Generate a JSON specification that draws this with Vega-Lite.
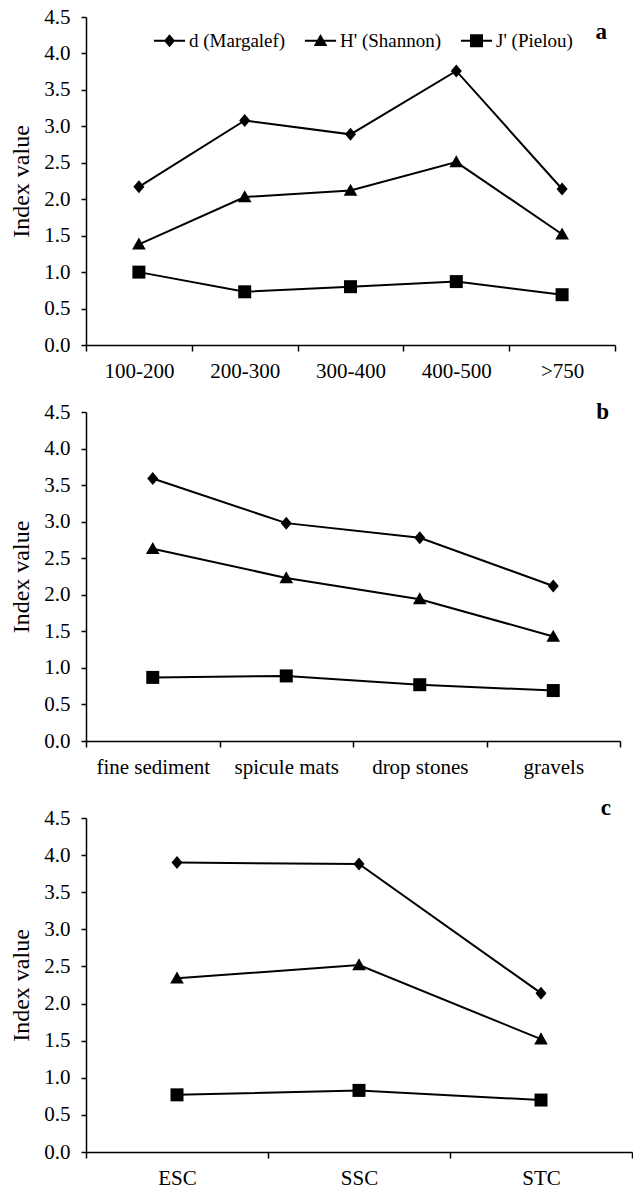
{
  "$schema": "https://vega.github.io/schema/vega-lite/v6.json",
  "background": "white",
  "padding": {"left": 9, "top": 6, "right": 0, "bottom": 0},
  "spacing": 20,
  "config": {
    "font": "Liberation Serif",
    "view": {"stroke": null},
    "title": {"font": "Liberation Serif", "fontSize": 23, "fontWeight": "bold", "color": "black", "anchor": "end", "frame": "group", "baseline": "middle", "offset": 0},
    "axis": {
      "grid": false,
      "domainColor": "black",
      "domainWidth": 1.5,
      "tickColor": "black",
      "tickWidth": 1.5,
      "tickSize": 6,
      "labelColor": "black",
      "labelFont": "Liberation Serif",
      "labelFontSize": 21,
      "labelOverlap": false,
      "titleFont": "Liberation Serif",
      "titleFontSize": 24,
      "titleFontWeight": "normal",
      "titleColor": "black"
    },
    "axisX": {"labelAngle": 0, "labelPadding": 9, "tickBand": "extent", "title": null},
    "axisY": {"labelPadding": 11, "tickSize": 5, "titlePadding": 10}
  },
  "datasets": {
    "depth": [
      {"cat": "100-200", "index": "d (Margalef)", "value": 2.17},
      {"cat": "200-300", "index": "d (Margalef)", "value": 3.08},
      {"cat": "300-400", "index": "d (Margalef)", "value": 2.89},
      {"cat": "400-500", "index": "d (Margalef)", "value": 3.76},
      {"cat": ">750", "index": "d (Margalef)", "value": 2.14},
      {"cat": "100-200", "index": "H' (Shannon)", "value": 1.38},
      {"cat": "200-300", "index": "H' (Shannon)", "value": 2.03},
      {"cat": "300-400", "index": "H' (Shannon)", "value": 2.12},
      {"cat": "400-500", "index": "H' (Shannon)", "value": 2.51},
      {"cat": ">750", "index": "H' (Shannon)", "value": 1.52},
      {"cat": "100-200", "index": "J' (Pielou)", "value": 1.0},
      {"cat": "200-300", "index": "J' (Pielou)", "value": 0.73},
      {"cat": "300-400", "index": "J' (Pielou)", "value": 0.8},
      {"cat": "400-500", "index": "J' (Pielou)", "value": 0.87},
      {"cat": ">750", "index": "J' (Pielou)", "value": 0.69}
    ],
    "substrate": [
      {"cat": "fine sediment", "index": "d (Margalef)", "value": 3.59},
      {"cat": "spicule mats", "index": "d (Margalef)", "value": 2.98},
      {"cat": "drop stones", "index": "d (Margalef)", "value": 2.78},
      {"cat": "gravels", "index": "d (Margalef)", "value": 2.12},
      {"cat": "fine sediment", "index": "H' (Shannon)", "value": 2.63},
      {"cat": "spicule mats", "index": "H' (Shannon)", "value": 2.23},
      {"cat": "drop stones", "index": "H' (Shannon)", "value": 1.94},
      {"cat": "gravels", "index": "H' (Shannon)", "value": 1.43},
      {"cat": "fine sediment", "index": "J' (Pielou)", "value": 0.87},
      {"cat": "spicule mats", "index": "J' (Pielou)", "value": 0.89},
      {"cat": "drop stones", "index": "J' (Pielou)", "value": 0.77},
      {"cat": "gravels", "index": "J' (Pielou)", "value": 0.69}
    ],
    "community": [
      {"cat": "ESC", "index": "d (Margalef)", "value": 3.9},
      {"cat": "SSC", "index": "d (Margalef)", "value": 3.88},
      {"cat": "STC", "index": "d (Margalef)", "value": 2.14},
      {"cat": "ESC", "index": "H' (Shannon)", "value": 2.34},
      {"cat": "SSC", "index": "H' (Shannon)", "value": 2.52},
      {"cat": "STC", "index": "H' (Shannon)", "value": 1.52},
      {"cat": "ESC", "index": "J' (Pielou)", "value": 0.77},
      {"cat": "SSC", "index": "J' (Pielou)", "value": 0.83},
      {"cat": "STC", "index": "J' (Pielou)", "value": 0.7}
    ]
  },
  "resolve": {"scale": {"x": "independent", "y": "independent", "shape": "independent"}, "legend": {"shape": "independent"}},
  "vconcat": [
    {
      "width": 529,
      "height": 328,
      "title": {"text": "a", "dx": -8, "dy": 42},
      "data": {"name": "depth"},
      "encoding": {
        "x": {"field": "cat", "type": "nominal", "sort": null, "bandPosition": 0.5, "scale": {"type": "band", "paddingInner": 0, "paddingOuter": 0}},
        "y": {"field": "value", "type": "quantitative", "scale": {"domain": [0, 4.5], "nice": false}, "axis": {"values": [0, 0.5, 1, 1.5, 2, 2.5, 3, 3.5, 4, 4.5], "format": ".1f", "title": "Index value"}}
      },
      "resolve": {"scale": {"shape": "independent"}, "legend": {"shape": "independent"}},
      "layer": [
        {
          "mark": {"type": "line", "color": "black", "strokeWidth": 2},
          "encoding": {"detail": {"field": "index"}}
        },
        {
          "mark": {"type": "point", "filled": true, "color": "black", "opacity": 1, "size": 169},
          "encoding": {
            "shape": {"field": "index", "type": "nominal", "scale": {"domain": ["d (Margalef)", "H' (Shannon)", "J' (Pielou)"], "range": ["M0,-1L0.85,0L0,1L-0.85,0Z", "M0,-1.05L1.05,0.8L-1.05,0.8Z", "M-1,-1H1V1H-1Z"]}, "legend": null}
          }
        },
        {
          "transform": [{"filter": "false"}],
          "mark": {"type": "point", "filled": true, "color": "black", "opacity": 1, "size": 169},
          "encoding": {
            "shape": {"field": "index", "type": "nominal", "scale": {"domain": ["d (Margalef)", "H' (Shannon)", "J' (Pielou)"], "range": ["M-2.4,-0.15H2.4V0.15H-2.4ZM0,-1L0.85,0L0,1L-0.85,0Z", "M-2.4,-0.15H2.4V0.15H-2.4ZM0,-1.05L1.05,0.8L-1.05,0.8Z", "M-2.4,-0.15H2.4V0.15H-2.4ZM-1,-1H1V1H-1Z"]},
              "legend": {"title": null, "orient": "none", "legendX": 74, "legendY": 14, "direction": "horizontal", "labelFont": "Liberation Serif", "labelFontSize": 19, "labelColor": "black", "symbolSize": 169, "labelOffset": 10, "columnPadding": 18, "padding": 0, "symbolOpacity": 1, "symbolFillColor": "black", "symbolStrokeColor": "black", "symbolStrokeWidth": 0}}
          }
        }
      ]
    },
    {
      "width": 534,
      "height": 329,
      "title": {"text": "b", "dx": -11, "dy": 27},
      "data": {"name": "substrate"},
      "encoding": {
        "x": {"field": "cat", "type": "nominal", "sort": null, "bandPosition": 0.5, "scale": {"type": "band", "paddingInner": 0, "paddingOuter": 0}},
        "y": {"field": "value", "type": "quantitative", "scale": {"domain": [0, 4.5], "nice": false}, "axis": {"values": [0, 0.5, 1, 1.5, 2, 2.5, 3, 3.5, 4, 4.5], "format": ".1f", "title": "Index value"}}
      },
      "layer": [
        {
          "mark": {"type": "line", "color": "black", "strokeWidth": 2},
          "encoding": {"detail": {"field": "index"}}
        },
        {
          "mark": {"type": "point", "filled": true, "color": "black", "opacity": 1, "size": 169},
          "encoding": {
            "shape": {"field": "index", "type": "nominal", "scale": {"domain": ["d (Margalef)", "H' (Shannon)", "J' (Pielou)"], "range": ["M0,-1L0.85,0L0,1L-0.85,0Z", "M0,-1.05L1.05,0.8L-1.05,0.8Z", "M-1,-1H1V1H-1Z"]}, "legend": null}
          }
        }
      ]
    },
    {
      "width": 546,
      "height": 334,
      "title": {"text": "c", "dx": -21, "dy": 17},
      "data": {"name": "community"},
      "encoding": {
        "x": {"field": "cat", "type": "nominal", "sort": null, "bandPosition": 0.5, "scale": {"type": "band", "paddingInner": 0, "paddingOuter": 0}},
        "y": {"field": "value", "type": "quantitative", "scale": {"domain": [0, 4.5], "nice": false}, "axis": {"values": [0, 0.5, 1, 1.5, 2, 2.5, 3, 3.5, 4, 4.5], "format": ".1f", "title": "Index value"}}
      },
      "layer": [
        {
          "mark": {"type": "line", "color": "black", "strokeWidth": 2},
          "encoding": {"detail": {"field": "index"}}
        },
        {
          "mark": {"type": "point", "filled": true, "color": "black", "opacity": 1, "size": 169},
          "encoding": {
            "shape": {"field": "index", "type": "nominal", "scale": {"domain": ["d (Margalef)", "H' (Shannon)", "J' (Pielou)"], "range": ["M0,-1L0.85,0L0,1L-0.85,0Z", "M0,-1.05L1.05,0.8L-1.05,0.8Z", "M-1,-1H1V1H-1Z"]}, "legend": null}
          }
        }
      ]
    }
  ]
}
